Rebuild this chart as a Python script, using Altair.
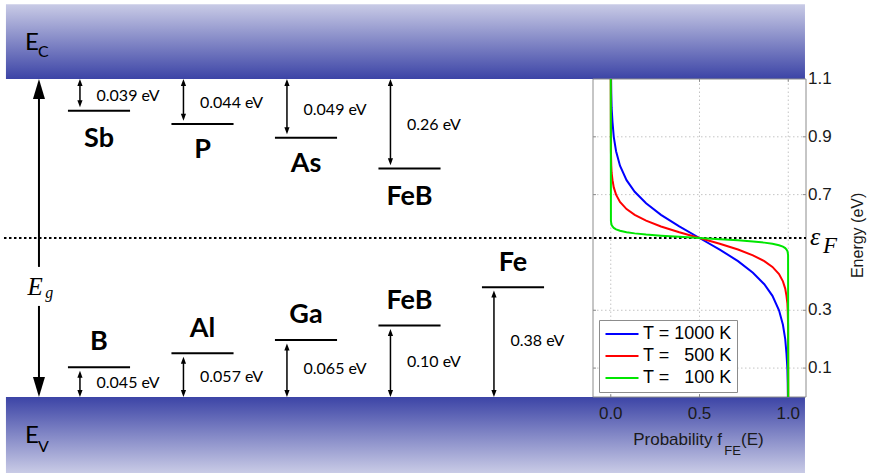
import altair as alt
import pandas as pd

# ---------------- physical values ----------------
E_V, E_C = 0.0, 1.1      # valence / conduction band edges of Si (eV)
E_FERMI = 0.55           # intrinsic Fermi level (eV)

donor_names = ["Sb", "P", "As", "FeB"]
donor_ionization = ["0.039 eV", "0.044 eV", "0.049 eV", "0.26 eV"]
acceptor_names = ["B", "Al", "Ga", "FeB", "Fe"]
acceptor_ionization = ["0.045 eV", "0.057 eV", "0.065 eV", "0.10 eV", "0.38 eV"]

# Fermi-Dirac occupation f_FE(E) along the three curves
temperatures = ["T = 1000 K", "T = \u2007500 K", "T = \u2007100 K"]
curve_colors = ["#0000ff", "#ff0000", "#00e600"]

energy_1000 = [0.00, 0.05, 0.10, 0.15, 0.20, 0.25, 0.30, 0.35, 0.39, 0.43, 0.47, 0.51, 0.55,
               0.59, 0.63, 0.67, 0.71, 0.75, 0.80, 0.85, 0.90, 0.95, 1.00, 1.05, 1.10]
prob_1000 = [0.998, 0.997, 0.995, 0.990, 0.983, 0.970, 0.948, 0.911, 0.865, 0.801, 0.717, 0.614, 0.500,
             0.386, 0.283, 0.199, 0.135, 0.089, 0.052, 0.030, 0.017, 0.010, 0.005, 0.003, 0.002]

energy_500 = [0.00, 0.25, 0.30, 0.325, 0.35, 0.375, 0.40, 0.425, 0.45, 0.47, 0.49, 0.51, 0.53, 0.55,
              0.57, 0.59, 0.61, 0.63, 0.65, 0.675, 0.70, 0.725, 0.75, 0.775, 0.80, 0.85, 1.10]
prob_500 = [1.000, 0.999, 0.997, 0.995, 0.990, 0.983, 0.970, 0.948, 0.911, 0.865, 0.801, 0.717, 0.614, 0.500,
            0.386, 0.283, 0.199, 0.135, 0.089, 0.052, 0.030, 0.017, 0.010, 0.005, 0.003, 0.001, 0.000]

energy_100 = [0.00, 0.49, 0.50, 0.505, 0.51, 0.515, 0.52, 0.525, 0.530, 0.534, 0.538, 0.542, 0.546, 0.55,
              0.554, 0.558, 0.562, 0.566, 0.570, 0.575, 0.580, 0.585, 0.590, 0.595, 0.60, 0.61, 1.10]
prob_100 = [1.000, 0.999, 0.997, 0.995, 0.990, 0.983, 0.970, 0.948, 0.911, 0.865, 0.801, 0.717, 0.614, 0.500,
            0.386, 0.283, 0.199, 0.135, 0.089, 0.052, 0.030, 0.017, 0.010, 0.005, 0.003, 0.001, 0.000]

energy_ticks = [0.1, 0.3, 0.7, 0.9, 1.1]
prob_ticks = [0.0, 0.5, 1.0]

# ---------------- sketch layout ----------------
# Horizontal unit: one impurity column (column k is centred on k).
# Vertical unit: eV, shared with the occupation plot on the right.
SKETCH_X = [-0.9565, 6.8309]
BAND_X = [-0.899, 6.821]
BAND_C_TOP = 1.359
BAND_V_BOTTOM = -0.263
FERMI_X = [-0.918, 6.8309]
LEVEL_HALF = 0.30
ARROW_DX = -0.184
VALUE_DX = -0.024
TIP_GAP = 0.012
HEAD_IN = 0.012
EG_X = -0.580
EG_GAP = [0.315, 0.450]
EG_HEAD_IN = 0.035

donor_level = [0.990, 0.944, 0.897, 0.790]
donor_value_y = [1.041, 1.016, 0.993, 0.941]
donor_name_y = [0.865, 0.827, 0.778, 0.664]
acceptor_level = [0.103, 0.151, 0.197, 0.247, 0.380]
acceptor_value_y = [0.049, 0.070, 0.097, 0.122, 0.194]
acceptor_name_y = [0.163, 0.208, 0.255, 0.303, 0.436]

INSET_X = [-0.1, 1.1]
INSET_RANGE = [593, 806]
TICK_F = 0.017      # inward tick length along probability
TICK_E = 0.010      # inward tick length along energy

SANS = "Lato"
AX = "Liberation Sans"
SERIF = "Liberation Serif"
INK = "#1a1a1a"
FRAME = "#8c8c8c"

# arrow heads: tip sits on the data point
UP_SMALL = "M0,0L2.6,7L-2.6,7Z"
DOWN_SMALL = "M0,0L2.6,-7L-2.6,-7Z"
UP_BIG = "M0,0L6,20L-6,20Z"
DOWN_BIG = "M0,0L6,-20L-6,-20Z"

sx = alt.Scale(domain=SKETCH_X)
ix = alt.Scale(domain=INSET_X, range=INSET_RANGE)
ys = alt.Scale(domain=[E_V, E_C])


def xs(field, scale=sx):
    return alt.X(f"{field}:Q", scale=scale, axis=None)


def yq(field):
    return alt.Y(f"{field}:Q", scale=ys, axis=None)


# ---------------- data tables ----------------
nd, na = len(donor_names), len(acceptor_names)
cols = list(range(nd)) + list(range(na))

levels = pd.DataFrame({"col": cols, "E": donor_level + acceptor_level})
levels["x0"] = levels["col"] - LEVEL_HALF
levels["x1"] = levels["col"] + LEVEL_HALF

arrows = pd.DataFrame({
    "x": [c + ARROW_DX for c in cols],
    "top": [E_C] * nd + [e - TIP_GAP for e in acceptor_level],
    "bottom": [e + TIP_GAP for e in donor_level] + [E_V] * na,
})
arrows["s0"] = arrows["bottom"] + HEAD_IN
arrows["s1"] = arrows["top"] - HEAD_IN

values = pd.DataFrame({
    "x": [c + VALUE_DX for c in cols],
    "y": donor_value_y + acceptor_value_y,
    "label": donor_ionization + acceptor_ionization,
})
names = pd.DataFrame({
    "x": cols,
    "y": donor_name_y + acceptor_name_y,
    "label": donor_names + acceptor_names,
})

eg_shafts = pd.DataFrame({"x": [EG_X, EG_X],
                          "s0": [EG_GAP[1], E_V + EG_HEAD_IN],
                          "s1": [E_C - EG_HEAD_IN, EG_GAP[0]]})
eg_heads = pd.DataFrame({"x": [EG_X], "top": [E_C], "bottom": [E_V]})

bands = pd.DataFrame({"x0": [BAND_X[0]], "x1": [BAND_X[1]]})
fermi = pd.DataFrame({"x0": [FERMI_X[0]], "x1": [FERMI_X[1]], "E": [E_FERMI]})

curves = pd.concat([
    pd.DataFrame({"E": energy_1000, "f": prob_1000, "T": temperatures[0]}),
    pd.DataFrame({"E": energy_500, "f": prob_500, "T": temperatures[1]}),
    pd.DataFrame({"E": energy_100, "f": prob_100, "T": temperatures[2]}),
], ignore_index=True)

light, dark = "#c9cbe6", "#3c44a6"
grad_c = alt.Gradient(gradient="linear", x1=0, x2=0, y1=0, y2=1,
                      stops=[alt.GradientStop(color=light, offset=0),
                             alt.GradientStop(color=dark, offset=1)])
grad_v = alt.Gradient(gradient="linear", x1=0, x2=0, y1=0, y2=1,
                      stops=[alt.GradientStop(color=dark, offset=0),
                             alt.GradientStop(color=light, offset=1)])

layers = []

# conduction and valence bands
layers.append(alt.Chart(bands).mark_rect(fill=grad_c).encode(
    x=xs("x0"), x2="x1", y=alt.Y(datum=E_C, scale=ys, axis=None), y2=alt.Y2(datum=BAND_C_TOP)))
layers.append(alt.Chart(bands).mark_rect(fill=grad_v).encode(
    x=xs("x0"), x2="x1", y=alt.Y(datum=E_V, scale=ys, axis=None), y2=alt.Y2(datum=BAND_V_BOTTOM)))

# occupation plot: white box, dotted grid, inward ticks
box = pd.DataFrame({"f0": [INSET_X[0]], "f1": [INSET_X[1]], "e0": [E_V], "e1": [E_C]})
layers.append(alt.Chart(box).mark_rect(fill="white", stroke=FRAME, strokeWidth=1).encode(
    x=xs("f0", ix), x2="f1", y=yq("e0"), y2="e1"))
grid_v = pd.DataFrame({"f": prob_ticks, "e0": E_V, "e1": E_C})
grid_h = pd.DataFrame({"E": energy_ticks[:-1], "f0": INSET_X[0], "f1": INSET_X[1]})
layers.append(alt.Chart(grid_v).mark_rule(color="#c4c4c4", strokeDash=[1.5, 2.5], strokeWidth=1).encode(
    x=xs("f", ix), y=yq("e0"), y2="e1"))
layers.append(alt.Chart(grid_h).mark_rule(color="#c4c4c4", strokeDash=[1.5, 2.5], strokeWidth=1).encode(
    x=xs("f0", ix), x2="f1", y=yq("E")))

ticks_e = pd.DataFrame({
    "E": energy_ticks[:-1] * 2,
    "f0": [INSET_X[0]] * 4 + [INSET_X[1] - TICK_F] * 4,
    "f1": [INSET_X[0] + TICK_F] * 4 + [INSET_X[1]] * 4,
})
ticks_f = pd.DataFrame({
    "f": prob_ticks * 2,
    "e0": [E_V] * 3 + [E_C - TICK_E] * 3,
    "e1": [E_V + TICK_E] * 3 + [E_C] * 3,
})
layers.append(alt.Chart(ticks_e).mark_rule(color=FRAME, strokeWidth=1).encode(
    x=xs("f0", ix), x2="f1", y=yq("E")))
layers.append(alt.Chart(ticks_f).mark_rule(color=FRAME, strokeWidth=1).encode(
    x=xs("f", ix), y=yq("e0"), y2="e1"))

# Fermi level
layers.append(alt.Chart(fermi).mark_rule(color="black", strokeDash=[2.5, 2.5], strokeWidth=2).encode(
    x=xs("x0"), x2="x1", y=yq("E")))

# impurity levels and their arrows
layers.append(alt.Chart(levels).mark_rule(color="black", strokeWidth=2).encode(
    x=xs("x0"), x2="x1", y=yq("E")))
layers.append(alt.Chart(arrows).mark_rule(color="black", strokeWidth=1.5).encode(
    x=xs("x"), y=yq("s0"), y2="s1"))
layers.append(alt.Chart(arrows).mark_point(shape=UP_SMALL, size=4, filled=True, color="black",
                                           opacity=1, strokeWidth=0).encode(x=xs("x"), y=yq("top")))
layers.append(alt.Chart(arrows).mark_point(shape=DOWN_SMALL, size=4, filled=True, color="black",
                                           opacity=1, strokeWidth=0).encode(x=xs("x"), y=yq("bottom")))

# band-gap arrow
layers.append(alt.Chart(eg_shafts).mark_rule(color="black", strokeWidth=2).encode(
    x=xs("x"), y=yq("s0"), y2="s1"))
layers.append(alt.Chart(eg_heads).mark_point(shape=UP_BIG, size=4, filled=True, color="black",
                                             opacity=1, strokeWidth=0).encode(x=xs("x"), y=yq("top")))
layers.append(alt.Chart(eg_heads).mark_point(shape=DOWN_BIG, size=4, filled=True, color="black",
                                             opacity=1, strokeWidth=0).encode(x=xs("x"), y=yq("bottom")))

# texts in the sketch
layers.append(alt.Chart(values).mark_text(align="left", baseline="middle", font=SANS, fontSize=16,
                                          color="black").encode(x=xs("x"), y=yq("y"), text="label:N"))
layers.append(alt.Chart(names).mark_text(align="center", baseline="alphabetic", font=SANS, fontSize=27,
                                         fontWeight="bold", color="black").encode(
    x=xs("x"), y=yq("y"), text="label:N"))

band_text = pd.DataFrame({
    "x": [-0.715, -0.589, -0.715, -0.589],
    "y": [1.200, 1.176, -0.159, -0.190],
    "label": ["E", "C", "E", "V"],
    "size": [24, 16, 24, 16],
})
layers.append(alt.Chart(band_text).mark_text(align="left", baseline="alphabetic", font=SANS,
                                             color="black").encode(
    x=xs("x"), y=yq("y"), text="label:N", size=alt.Size("size:Q", scale=None, legend=None)))

eg_text = pd.DataFrame({"x": [-0.690, -0.520], "y": [0.353, 0.343], "label": ["E", "g"],
                        "size": [25, 16]})
layers.append(alt.Chart(eg_text).mark_text(align="left", baseline="alphabetic", font=SERIF,
                                           fontStyle="italic", color="black").encode(
    x=xs("x"), y=yq("y"), text="label:N", size=alt.Size("size:Q", scale=None, legend=None)))

# Fermi-Dirac curves and legend
layers.append(alt.Chart(curves).mark_line(strokeWidth=2).encode(
    x=xs("f", ix),
    y=yq("E"),
    color=alt.Color("T:N", scale=alt.Scale(domain=temperatures, range=curve_colors),
                    legend=alt.Legend(orient="none", legendX=599, legendY=241, title=None,
                                      fillColor="white", strokeColor=FRAME, padding=5,
                                      rowPadding=4, symbolType="M-3,0H3", symbolSize=121,
                                      symbolStrokeWidth=2, symbolOffset=9, labelOffset=12,
                                      labelFont=AX, labelFontSize=18, labelColor="black",
                                      cornerRadius=0)),
    order=alt.Order("E:Q"),
))

# tick labels of the occupation plot
e_labels = pd.DataFrame({"E": energy_ticks, "f": INSET_X[1],
                         "label": [f"{v:.1f}" for v in energy_ticks]})
f_labels = pd.DataFrame({"f": prob_ticks, "E": E_V,
                         "label": [f"{v:.1f}" for v in prob_ticks]})
layers.append(alt.Chart(e_labels).mark_text(align="left", baseline="middle", dx=2, font=AX, fontSize=17,
                                            color=INK).encode(x=xs("f", ix), y=yq("E"), text="label:N"))
layers.append(alt.Chart(f_labels).mark_text(align="center", baseline="top", dy=9, font=AX, fontSize=17,
                                            color=INK).encode(x=xs("f", ix), y=yq("E"), text="label:N"))

# axis titles and Fermi level label (dy acts across the rotated text)
etitle = pd.DataFrame({"f": [INSET_X[1]], "E": [0.559], "label": ["Energy (eV)"]})
layers.append(alt.Chart(etitle).mark_text(angle=270, align="center", baseline="middle", dy=52,
                                          font=AX, fontSize=16, color=INK).encode(
    x=xs("f", ix), y=yq("E"), text="label:N"))

fl = pd.DataFrame({"f": [INSET_X[1]], "E": [E_FERMI]})
layers.append(alt.Chart(fl).mark_text(text="\u03b5", align="left", baseline="alphabetic", dx=4, dy=7,
                                      font=SERIF, fontStyle="italic", fontSize=26, color="black").encode(
    x=xs("f", ix), y=yq("E")))
layers.append(alt.Chart(fl).mark_text(text="F", align="left", baseline="alphabetic", dx=17, dy=15,
                                      font=SERIF, fontStyle="italic", fontSize=23, color="black").encode(
    x=xs("f", ix), y=yq("E")))

xtitle = pd.DataFrame({"f": [0.627, 0.640, 0.734], "y": [-0.166, -0.200, -0.166],
                       "label": ["Probability f", "FE", "(E)"], "size": [17, 13, 17]})
layers.append(alt.Chart(xtitle.iloc[[0]]).mark_text(align="right", baseline="alphabetic", font=AX,
                                                    fontSize=17, color=INK).encode(
    x=xs("f", ix), y=yq("y"), text="label:N"))
layers.append(alt.Chart(xtitle.iloc[[1, 2]]).mark_text(align="left", baseline="alphabetic", font=AX,
                                                       color=INK).encode(
    x=xs("f", ix), y=yq("y"), text="label:N", size=alt.Size("size:Q", scale=None, legend=None)))

chart = alt.layer(*layers).resolve_scale(x="independent").properties(
    width=806, height=318,
    padding={"left": 0, "top": 79, "right": 64, "bottom": 77},
    autosize=alt.AutoSizeParams(type="none"),
    background="white",
).configure_view(stroke=None)

chart.save("out.html", embed_options={"renderer": "svg", "actions": False})
